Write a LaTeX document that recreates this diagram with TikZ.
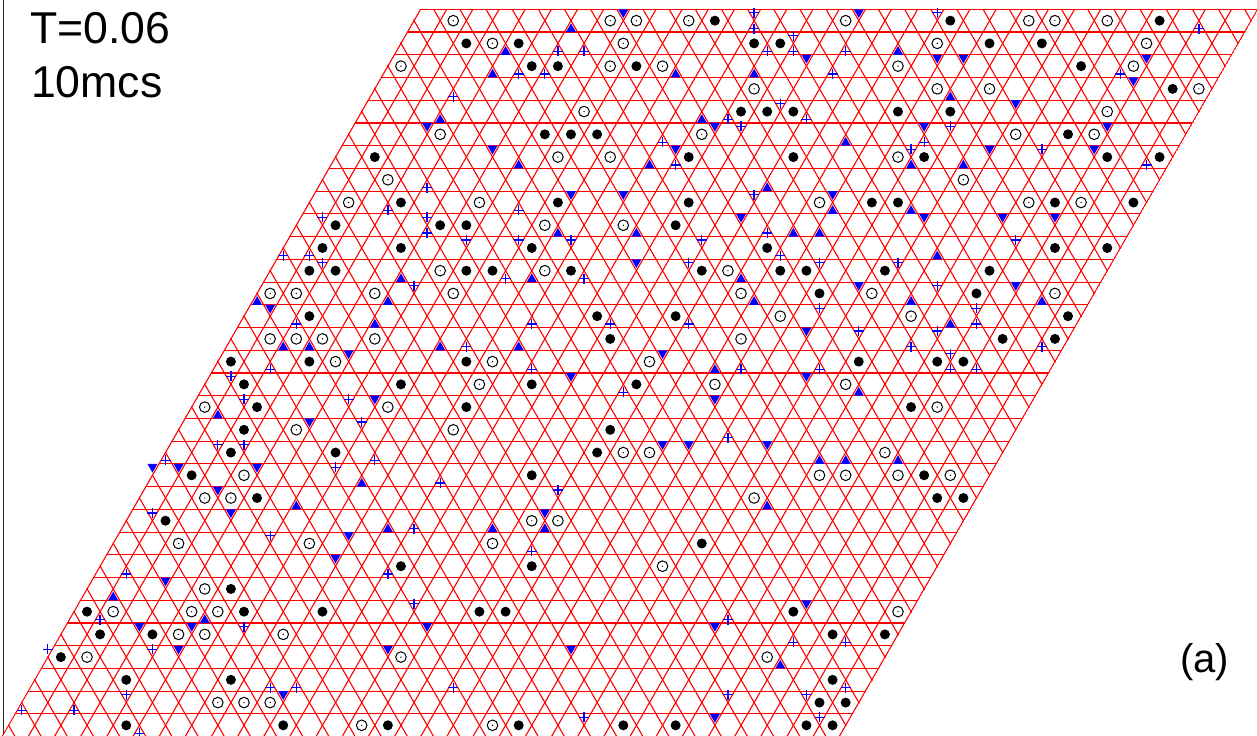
\documentclass[tikz,border=0pt]{standalone}
\usepackage{fontspec}
\setmainfont{Liberation Sans}
\begin{document}
\begin{tikzpicture}[x=0.5pt,y=-0.5pt,
  latline/.style={red,line width=0.55pt},
  spot/.style={fill=black},
  ring/.style={draw=black,line width=0.5pt},
  tri/.style={fill=blue},
  cross/.style={draw=blue,line width=0.65pt},
  lbl/.style={anchor=base west,inner sep=0pt,font=\fontsize{22.3}{26}\selectfont}]
  \useasboundingbox (0,0) rectangle (1257,735);
  % left edge of the frame
  \draw[line width=0.65pt,black!85] (3.3,0) -- (3.3,735);
  % kagome lattice, clipped to the sample
  \begin{scope}
    \clip (419.9,8.7) -- (1258.6,8.7) -- (839.9,737.3) -- (1.2,737.3) -- cycle;
    \foreach \k in {0,...,32}
      \draw[latline] ({420.6-13.08*\k},{9.3+22.73*\k}) -- ({1257.7-13.08*\k},{9.3+22.73*\k});
    \foreach \j in {0,...,32}
      \draw[latline] ({420.6+26.16*\j},9.3) -- ({2.0+26.16*\j},736.7);
    \foreach \i in {-33,...,32}
      \draw[latline] ({433.7+26.16*\i},9.3) -- ({852.3+26.16*\i},736.7);
  \end{scope}
  % filled triangles, up
  \foreach \r/\L in {0/{5},1/{3,18},2/{3,10,13},3/{21},4/{2,12},5/{18},6/{6,11,21,23},
      7/{16},8/{19,22},9/{9,12,18,19},10/{24},11/{4,9,17},12/{-1,4,18,24,29},13/{4,26},
      14/{1,2,7,10},15/{18},16/{24},17/{0},19/{24,25,27},20/{7},21/{5,23},22/{9,13,15},
      25/{0},26/{4},28/{27}}
    \foreach \m in \L {
      \pgfmathsetmacro\tx{440.2-13.08*\r+26.16*\m}
      \pgfmathsetmacro\ty{9.3+22.73*(\r+1)}
      \fill[tri] (\tx-5,\ty) -- (\tx+5,\ty) -- (\tx,\ty-8.7) -- cycle;
    }
  % filled triangles, down
  \foreach \r/\L in {0/{7,16},2/{15,20,21,28},3/{28},4/{24},5/{2,13,21,28},6/{5,12,24,28},
      8/{9,11,19},9/{16,23,26,28},11/{13},12/{22,28},13/{0},14/{21},15/{4,16},16/{13,22},
      17/{6,19},18/{4},19/{18,19,22},20/{-1,0,3},21/{2},22/{3,15},23/{8},24/{8},25/{2},
      26/{27},27/{2,4,13,24},28/{4,12,19},30/{9},31/{26}}
    \foreach \m in \L {
      \pgfmathsetmacro\tx{440.2-13.08*\r+26.16*\m}
      \pgfmathsetmacro\ty{9.3+22.73*\r}
      \fill[tri] (\tx-5,\ty) -- (\tx+5,\ty) -- (\tx,\ty+8.7) -- cycle;
    }
  % crosses, up
  \foreach \r/\L in {0/{12,29},1/{5,6,13,14,16},2/{4,5,16,27},3/{2},4/{13,16},5/{11,21},
      6/{12,30},7/{3},8/{2,7},9/{4,17},10/{-1,0,18},11/{8,11},13/{1,10,13,16,27},
      14/{8,25,30},15/{1,11,19,22,27,28},16/{15},18/{20},19/{-1,7},20/{10},22/{10},
      23/{15},24/{0,10},26/{0,24},27/{27,29},29/{8,9,15,30},30/{-1,1},31/{4}}
    \foreach \m in \L {
      \pgfmathsetmacro\tx{440.2-13.08*\r+26.16*\m}
      \pgfmathsetmacro\ty{9.3+22.73*(\r+1)-3.5}
      \draw[cross] (\tx-5,\ty) -- (\tx+5,\ty) (\tx,\ty-5) -- (\tx,\ty+5);
    }
  % crosses, down
  \foreach \r/\L in {0/{12,19},1/{14},4/{15},5/{14,22},6/{21,26},8/{16},9/{0,4},
      10/{6,8,10,15,27},11/{1,15,20,23},12/{5,25},13/{21,27},14/{23,26},15/{27},16/{0},
      17/{1,5},18/{6},19/{1,2},20/{6},21/{15},22/{0},23/{5},26/{12},27/{6},28/{-1,3},
      30/{3,26,29},31/{21,30}}
    \foreach \m in \L {
      \pgfmathsetmacro\tx{440.2-13.08*\r+26.16*\m}
      \pgfmathsetmacro\ty{9.3+22.73*\r+3.5}
      \draw[cross] (\tx-5,\ty) -- (\tx+5,\ty) (\tx,\ty-5) -- (\tx,\ty+5);
    }
  % black dots in hexagons
  \foreach \r/\L in {0/{11,20,28},1/{2,4,13,14,22,24},2/{5,6,9,26},3/{30},4/{14,15,16,20,22},
      5/{7,8,9,27},6/{1,13,17,22,29,31},8/{3,9,14,21,22,28,31},9/{1,5,6,14},
      10/{1,4,9,18,29,31},11/{1,2,7,8,11,16,19,20,23,27},12/{21,27},13/{2,13,16,31},
      14/{14,29,31},15/{0,3,9,24,27,28},16/{1,7,12,16},17/{2,10,27},18/{2,16},
      19/{2,6,16},20/{1,14,29},21/{4,30,31},22/{1},23/{22},24/{11,16},25/{5},
      26/{0,6,9,15,16,27},27/{1,3,29,31},28/{0},29/{3,7,30},30/{30,31},
      31/{4,10,14,19,23,25,30,31}}
    \foreach \n in \L
      \fill[spot] ({427.1-13.08*\r+26.16*\n},{20.67+22.73*\r}) circle[radius=2.5pt];
  % open circles in hexagons
  \foreach \r/\L in {0/{1,7,8,10,16,23,24,26},1/{3,8,20,28},2/{0,8,10,19,28},3/{14,21,23,31},
      4/{8,28},5/{3,13,25,28},6/{8,10,21},7/{2,24},8/{1,6,19,27,29},9/{9,12},11/{6,10,17},
      12/{0,1,4,7,18,23,30},13/{20,25},14/{1,2,3,5,19},15/{4,10,16},16/{10,19,24},
      17/{0,7,28},18/{4,10},19/{17,18,27},20/{3,25,26,28,30},21/{2,3,23},22/{15,16},
      23/{2,7,14},24/{21},25/{4},26/{1,4,5,31},27/{4,5,8},28/{1,13,27},30/{7,8,9},
      31/{13,18}}
    \foreach \n in \L {
      \pgfmathsetmacro\hx{427.1-13.08*\r+26.16*\n}
      \pgfmathsetmacro\hy{20.67+22.73*\r}
      \draw[ring] (\hx,\hy) circle[radius=2.65pt];
      \fill (\hx,\hy) circle[radius=0.35pt];
    }
  \node[lbl] (temp) at (30,43.3) {T=0.06};
  \node[lbl] (steps) at (30.7,97) {10mcs};
  \node[lbl,font=\fontsize{20}{24}\selectfont] (panel) at (1180,672) {(a)};
\end{tikzpicture}
\end{document}
